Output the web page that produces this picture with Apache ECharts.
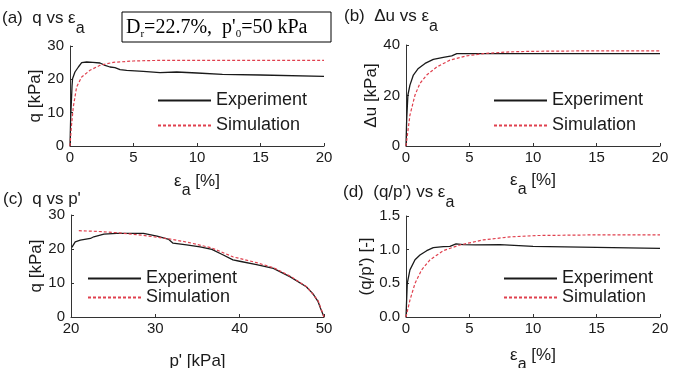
<!DOCTYPE html>
<html><head><meta charset="utf-8">
<script src="https://cdn.jsdelivr.net/npm/echarts@6/dist/echarts.min.js"></script>
<style>html,body{margin:0;padding:0;background:#fff}#c{width:683px;height:368px}</style>
</head><body><div id="c"></div>
<script>
// ---- data ----
const seriesNames = ['Experiment', 'Simulation'];
// (a) q vs eps_a
const aExpEps = [0, 0.05, 0.16, 0.2, 0.39, 0.66, 0.92, 1.31, 1.8, 2.36, 2.76, 3.15, 3.54, 3.94, 4.46, 5.77, 7.09, 7.2, 8.4, 10.0, 12.0, 15.0, 20.0];
const aExpQ   = [0, 8, 18, 20.2, 22.2, 23.7, 25.0, 25.2, 25.1, 24.9, 24.2, 23.7, 23.5, 22.9, 22.7, 22.4, 22.0, 22.5, 22.2, 21.9, 21.5, 21.3, 20.9];
const aSimEps = [0, 0.1, 0.26, 0.52, 0.92, 1.57, 2.36, 3.41, 4.98, 6.5, 8, 10, 15, 20];
const aSimQ   = [0, 5.5, 11.7, 17.7, 20.7, 22.7, 24.2, 25.1, 25.5, 25.65, 25.7, 25.7, 25.7, 25.7];
// (b) du vs eps_a
const bExpEps = [0, 0.05, 0.15, 0.31, 0.58, 0.97, 1.5, 2.15, 2.94, 3.6, 4.0, 5, 10, 15, 20];
const bExpDu  = [0, 10, 20.2, 24.1, 28.1, 30.7, 32.7, 34.3, 35.1, 35.7, 36.6, 36.6, 36.6, 36.6, 36.6];
const bSimEps = [0, 0.31, 0.71, 1.1, 1.63, 2.42, 3.46, 4.78, 6.09, 8.2, 10, 15, 20];
const bSimDu  = [0, 12.2, 20.2, 24.8, 28.1, 31.3, 34.0, 35.7, 36.6, 37.3, 37.5, 37.7, 37.7];
// (c) q vs p'
const cExpP = [50.0, 49.6, 49.3, 48.7, 47.9, 46.0, 44.0, 42.0, 40.0, 39.2, 38.0, 36.7, 35.3, 33.7, 32.1, 31.6, 30.2, 28.6, 25.4, 23.9, 22.7, 22.3, 21.1, 20.5, 20.1];
const cExpQ = [0, 2.5, 4.5, 6.8, 8.9, 11.8, 14.3, 15.4, 16.4, 16.8, 18.3, 19.9, 20.6, 21.2, 21.7, 22.8, 23.8, 24.6, 24.6, 24.4, 23.6, 23.1, 22.6, 22.1, 20.5];
const cSimP = [50.0, 49.3, 48.0, 46.0, 44.0, 42.0, 39.2, 36.7, 34.0, 31.6, 28.6, 25.4, 23.0, 20.7];
const cSimQ = [0, 4.8, 8.8, 12.0, 14.5, 16.0, 17.7, 20.3, 21.9, 23.0, 24.0, 24.8, 25.2, 25.4];
// (d) q/p' vs eps_a
const dExpEps = [0, 0.1, 0.31, 0.71, 1.1, 1.63, 2.15, 2.94, 3.46, 3.94, 4.51, 5.5, 7.4, 10.0, 15, 20];
const dExpR   = [0, 0.5, 0.70, 0.85, 0.92, 0.985, 1.03, 1.045, 1.05, 1.085, 1.075, 1.07, 1.075, 1.05, 1.035, 1.02];
const dSimEps = [0, 0.31, 0.71, 1.23, 1.89, 2.94, 4.25, 6.09, 8.2, 10.3, 15, 20];
const dSimR   = [0, 0.25, 0.5, 0.70, 0.85, 0.985, 1.07, 1.145, 1.19, 1.21, 1.22, 1.22];
// tick settings
const epsTicks = {min: 0, max: 20, interval: 5};
const pTicks = {min: 20, max: 50, interval: 10};
const qTicks = {min: 0, max: 30, interval: 10};
const duTicks = {min: 0, max: 40, interval: 20};
const rTicks = {min: 0, max: 1.5, interval: 0.5};

// ---- chart ----
const F = '"Liberation Sans", Arial, sans-serif';
const FS = '"Liberation Serif", "Times New Roman", serif';
const AX = '#333';
const TXT = '#1a1a1a';
const zip = (xs, ys) => xs.map((x, i) => [x, ys[i]]);

const subRich = {
  m: {fontSize: 17, fontFamily: F, color: TXT, lineHeight: 20, padding: [0, 0, 10, 0]},
  s: {fontSize: 16, fontFamily: F, color: TXT, lineHeight: 20, padding: [10, 0, 0, 0]}
};

function xAx(gi, t, name, gap, rich) {
  return {
    type: 'value', gridIndex: gi, min: t.min, max: t.max, interval: t.interval,
    name: name, nameLocation: 'middle', nameGap: gap,
    nameTextStyle: rich ? {rich: subRich} : {fontSize: 17, fontFamily: F, color: TXT, lineHeight: 20},
    axisLine: {show: true, onZero: false, lineStyle: {color: AX, width: 1}},
    axisTick: {show: true, inside: true, length: 3, lineStyle: {color: AX}},
    axisLabel: {fontSize: 15, fontFamily: F, color: TXT, margin: 4},
    splitLine: {show: false}
  };
}
function yAx(gi, t, name, gap, fmt) {
  return {
    type: 'value', gridIndex: gi, min: t.min, max: t.max, interval: t.interval,
    name: name, nameLocation: 'middle', nameGap: gap, nameRotate: 90,
    nameTextStyle: {fontSize: 17, fontFamily: F, color: TXT},
    axisLine: {show: true, onZero: false, lineStyle: {color: AX, width: 1}},
    axisTick: {show: true, inside: true, length: 3, lineStyle: {color: AX}},
    axisLabel: {fontSize: 15, fontFamily: F, color: TXT, margin: 6, formatter: fmt},
    splitLine: {show: false}
  };
}
function leg(left, top, gap) {
  return {
    left: left, top: top, orient: 'vertical', itemWidth: 53, itemHeight: 14, itemGap: gap,
    padding: 0, selectedMode: false, data: seriesNames,
    itemStyle: {opacity: 0, borderWidth: 0},
    textStyle: {fontSize: 18, fontFamily: F, color: TXT, lineHeight: 19}
  };
}
function ser(name, gi, data) {
  const exp = name === seriesNames[0];
  return {
    name: name, type: 'line', xAxisIndex: gi, yAxisIndex: gi, data: data,
    symbol: 'none', showSymbol: false, smooth: false, animation: false,
    lineStyle: exp ? {color: '#1a1a1a', width: 1.3} : {color: '#e0404e', width: 1.2, type: [3, 2]},
    itemStyle: {color: exp ? '#1a1a1a' : '#e0404e'},
    z: exp ? 2 : 3
  };
}
const titleRich = {
  m: {fontSize: 17, fontFamily: F, fill: TXT, lineHeight: 20, padding: [0, 0, 10, 0]},
  s: {fontSize: 16, fontFamily: F, fill: TXT, lineHeight: 20, padding: [10, 0, 0, 0]}
};
function title(x, y, main, sub) {
  return {type: 'text', left: x, top: y, z: 10,
    style: {text: '{m|' + main + '}' + (sub ? '{s|' + sub + '}' : ''), rich: titleRich}};
}
function grid(l, t, w, h) {
  return {left: l, top: t, width: w, height: h, containLabel: false, outerBoundsMode: 'none'};
}

const chart = echarts.init(document.getElementById('c'), null, {renderer: 'canvas'});
chart.setOption({
  animation: false,
  backgroundColor: '#fff',
  grid: [
    grid(70, 46, 254, 100),
    grid(406, 45, 254, 101),
    grid(71, 215, 253, 102),
    grid(406, 216, 254, 101)
  ],
  xAxis: [
    xAx(0, epsTicks, '{m|ε}{s|a}{m| [%]}', 30, true),
    xAx(1, epsTicks, '{m|ε}{s|a}{m| [%]}', 29, true),
    xAx(2, pTicks, "p' [kPa]", 34, false),
    xAx(3, epsTicks, '{m|ε}{s|a}{m| [%]}', 33, true)
  ],
  yAxis: [
    yAx(0, qTicks, 'q [kPa]', 25),
    yAx(1, duTicks, 'Δu [kPa]', 23),
    yAx(2, qTicks, 'q [kPa]', 21),
    yAx(3, rTicks, "(q/p') [-]", 26, v => v.toFixed(1))
  ],
  legend: [leg(157, 91, 6), leg(493, 91, 6), leg(87, 269, 0), leg(503, 269, 0)],
  series: [
    ser('Experiment', 0, zip(aExpEps, aExpQ)),
    ser('Simulation', 0, zip(aSimEps, aSimQ)),
    ser('Experiment', 1, zip(bExpEps, bExpDu)),
    ser('Simulation', 1, zip(bSimEps, bSimDu)),
    ser('Experiment', 2, zip(cExpP, cExpQ)),
    ser('Simulation', 2, zip(cSimP, cSimQ)),
    ser('Experiment', 3, zip(dExpEps, dExpR)),
    ser('Simulation', 3, zip(dSimEps, dSimR))
  ],
  graphic: [
    title(2, 10, '(a)  q vs ε', 'a'),
    title(344, 8, '(b)  Δu vs ε', 'a'),
    title(3, 191, "(c)  q vs p'", null),
    title(343, 184, "(d)  (q/p') vs ε", 'a'),
    {type: 'rect', z: 10, shape: {x: 122, y: 12, width: 209, height: 30},
      style: {fill: '#fff', stroke: '#000', lineWidth: 1}},
    {type: 'text', left: 126, top: 18, z: 11,
      style: {text: "{m|D}{s|r}{m|=22.7%,  p'}{s|0}{m|=50 kPa}", rich: {
        m: {fontSize: 20, fontFamily: FS, fill: '#000', lineHeight: 22, padding: [0, 0, 6, 0]},
        s: {fontSize: 11, fontFamily: FS, fill: '#000', lineHeight: 22, padding: [6, 0, 0, 0]}
      }}}
  ]
});
</script></body></html>
